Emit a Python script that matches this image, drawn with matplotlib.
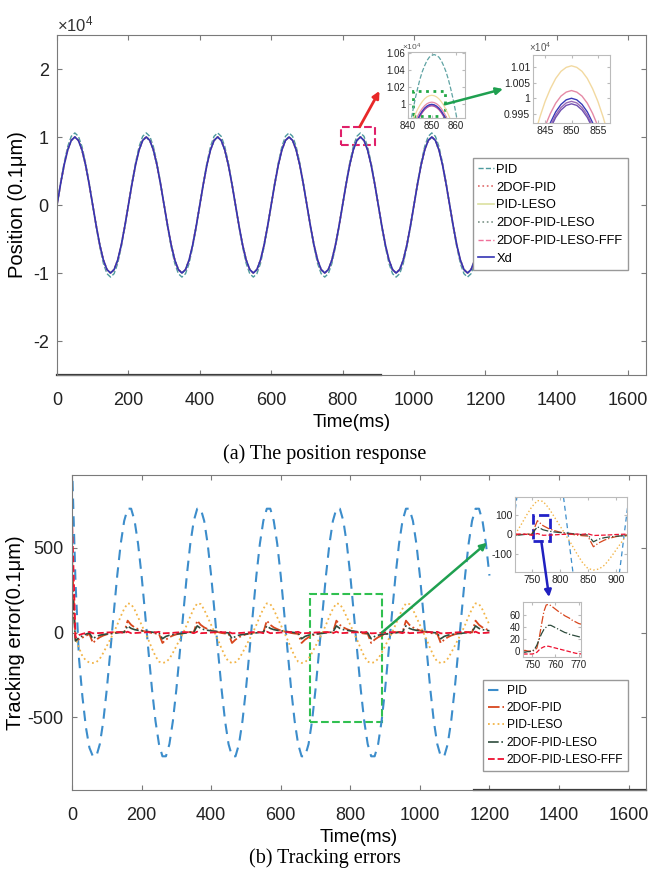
import numpy as np
import matplotlib.pyplot as plt
from matplotlib.patches import Rectangle, ConnectionPatch
from matplotlib.ticker import FuncFormatter

plt.rcParams['font.family'] = ['Liberation Sans Narrow', 'Liberation Sans', 'DejaVu Sans']
plt.rcParams['mathtext.default'] = 'regular'
plt.rcParams['xtick.direction'] = 'in'
plt.rcParams['ytick.direction'] = 'in'

# ---- (a) position response, values in units of 1e4 x 0.1um
t_pos = np.arange(0, 1201, 10)
xd_pos = [
    0.00, 0.31, 0.59, 0.81, 0.95, 1.00, 0.95, 0.81, 0.59, 0.31,
    0.00, -0.31, -0.59, -0.81, -0.95, -1.00, -0.95, -0.81, -0.59, -0.31,
    0.00, 0.31, 0.59, 0.81, 0.95, 1.00, 0.95, 0.81, 0.59, 0.31,
    0.00, -0.31, -0.59, -0.81, -0.95, -1.00, -0.95, -0.81, -0.59, -0.31,
    0.00, 0.31, 0.59, 0.81, 0.95, 1.00, 0.95, 0.81, 0.59, 0.31,
    0.00, -0.31, -0.59, -0.81, -0.95, -1.00, -0.95, -0.81, -0.59, -0.31,
    0.00, 0.31, 0.59, 0.81, 0.95, 1.00, 0.95, 0.81, 0.59, 0.31,
    0.00, -0.31, -0.59, -0.81, -0.95, -1.00, -0.95, -0.81, -0.59, -0.31,
    0.00, 0.31, 0.59, 0.81, 0.95, 1.00, 0.95, 0.81, 0.59, 0.31,
    0.00, -0.31, -0.59, -0.81, -0.95, -1.00, -0.95, -0.81, -0.59, -0.31,
    0.00, 0.31, 0.59, 0.81, 0.95, 1.00, 0.95, 0.81, 0.59, 0.31,
    0.00, -0.31, -0.59, -0.81, -0.95, -1.00, -0.95, -0.81, -0.59, -0.31,
    0.00]
pid_pos = [
    0.00, 0.33, 0.62, 0.86, 1.01, 1.06, 1.01, 0.86, 0.62, 0.33,
    0.00, -0.33, -0.62, -0.86, -1.01, -1.06, -1.01, -0.86, -0.62, -0.33,
    0.00, 0.33, 0.62, 0.86, 1.01, 1.06, 1.01, 0.86, 0.62, 0.33,
    0.00, -0.33, -0.62, -0.86, -1.01, -1.06, -1.01, -0.86, -0.62, -0.33,
    0.00, 0.33, 0.62, 0.86, 1.01, 1.06, 1.01, 0.86, 0.62, 0.33,
    0.00, -0.33, -0.62, -0.86, -1.01, -1.06, -1.01, -0.86, -0.62, -0.33,
    0.00, 0.33, 0.62, 0.86, 1.01, 1.06, 1.01, 0.86, 0.62, 0.33,
    0.00, -0.33, -0.62, -0.86, -1.01, -1.06, -1.01, -0.86, -0.62, -0.33,
    0.00, 0.33, 0.62, 0.86, 1.01, 1.06, 1.01, 0.86, 0.62, 0.33,
    0.00, -0.33, -0.62, -0.86, -1.01, -1.06, -1.01, -0.86, -0.62, -0.33,
    0.00, 0.33, 0.62, 0.86, 1.01, 1.06, 1.01, 0.86, 0.62, 0.33,
    0.00, -0.33, -0.62, -0.86, -1.01, -1.06, -1.01, -0.86, -0.62, -0.33,
    0.00]

# zoomed peak around t = 850 ms (insets of (a))
t_peak = np.arange(841, 862)
pid_peak = [0.977, 0.992, 1.006, 1.018, 1.029, 1.038, 1.045, 1.051, 1.055, 1.057, 1.058,
            1.057, 1.055, 1.051, 1.045, 1.038, 1.029, 1.018, 1.006, 0.992, 0.977]
dof_peak = [0.9652, 0.9731, 0.9800, 0.9859, 0.9910, 0.9951, 0.9984, 1.0007, 1.0020, 1.0025, 1.0020,
            1.0007, 0.9984, 0.9951, 0.9910, 0.9859, 0.9800, 0.9731, 0.9652, 0.9565, 0.9468]
leso_peak = [0.9732, 0.9811, 0.9880, 0.9939, 0.9990, 1.0031, 1.0064, 1.0087, 1.0100, 1.0105, 1.0100,
             1.0087, 1.0064, 1.0031, 0.9990, 0.9939, 0.9880, 0.9811, 0.9732, 0.9645, 0.9548]
dofleso_peak = [0.9593, 0.9676, 0.9750, 0.9813, 0.9867, 0.9911, 0.9946, 0.9970, 0.9985, 0.9990, 0.9985,
                0.9970, 0.9946, 0.9911, 0.9867, 0.9813, 0.9750, 0.9676, 0.9593, 0.9501, 0.9399]
fff_peak = [0.9585, 0.9668, 0.9742, 0.9805, 0.9859, 0.9903, 0.9938, 0.9962, 0.9977, 0.9982, 0.9977,
            0.9962, 0.9938, 0.9903, 0.9859, 0.9805, 0.9742, 0.9668, 0.9585, 0.9493, 0.9391]
xd_peak = [0.9603, 0.9686, 0.9760, 0.9823, 0.9877, 0.9921, 0.9956, 0.9980, 0.9995, 1.0000, 0.9995,
           0.9980, 0.9956, 0.9921, 0.9877, 0.9823, 0.9760, 0.9686, 0.9603, 0.9511, 0.9409]

# ---- (b) tracking errors, 0.1um
t_err = np.arange(0, 1201, 10)
pid_err = [
    1000, 300, -150, -380, -560, -680,
    -731, -731, -659, -523, -336, -115, 115, 336, 523, 659, 731, 731, 659, 523, 336, 115, -115, -336, -523, -659,
    -731, -731, -659, -523, -336, -115, 115, 336, 523, 659, 731, 731, 659, 523, 336, 115, -115, -336, -523, -659,
    -731, -731, -659, -523, -336, -115, 115, 336, 523, 659, 731, 731, 659, 523, 336, 115, -115, -336, -523, -659,
    -731, -731, -659, -523, -336, -115, 115, 336, 523, 659, 731, 731, 659, 523, 336, 115, -115, -336, -523, -659,
    -731, -731, -659, -523, -336, -115, 115, 336, 523, 659, 731, 731, 659, 523, 336, 115, -115, -336, -523, -659,
    -731, -731, -659, -523, -336, -115, 115, 336, 523, 659, 731, 731, 659, 523, 336]
dof_err = [
    450, -45, -40, -30, -20,
    -8, -62, -42, -28, -18, -11, -6, -2, 1, 3, 0, 70, 45, 30, 20, 12, 6, 2, -3, -6,
    -8, -62, -42, -28, -18, -11, -6, -2, 1, 3, 0, 70, 45, 30, 20, 12, 6, 2, -3, -6,
    -8, -62, -42, -28, -18, -11, -6, -2, 1, 3, 0, 70, 45, 30, 20, 12, 6, 2, -3, -6,
    -8, -62, -42, -28, -18, -11, -6, -2, 1, 3, 0, 70, 45, 30, 20, 12, 6, 2, -3, -6,
    -8, -62, -42, -28, -18, -11, -6, -2, 1, 3, 0, 70, 45, 30, 20, 12, 6, 2, -3, -6,
    -8, -62, -42, -28, -18, -11, -6, -2, 1, 3, 0, 70, 45, 30, 20, 12]
leso_err = [
    260, -30, -90, -140, -165, -178,
    -180, -175, -155, -120, -80, -40, 0, 45, 95, 140, 172, 168, 135, 90, 45, 0, -45, -95, -140, -172,
    -180, -175, -155, -120, -80, -40, 0, 45, 95, 140, 172, 168, 135, 90, 45, 0, -45, -95, -140, -172,
    -180, -175, -155, -120, -80, -40, 0, 45, 95, 140, 172, 168, 135, 90, 45, 0, -45, -95, -140, -172,
    -180, -175, -155, -120, -80, -40, 0, 45, 95, 140, 172, 168, 135, 90, 45, 0, -45, -95, -140, -172,
    -180, -175, -155, -120, -80, -40, 0, 45, 95, 140, 172, 168, 135, 90, 45, 0, -45, -95, -140, -172,
    -180, -175, -155, -120, -80, -40, 0, 45, 95, 140, 172, 168, 135, 90, 45]
dofleso_err = [
    300, -50, -30, -20, -10,
    -2, -37, -23, -16, -12, -9, -7, -5, -2, 1, 2, 39, 24, 17, 13, 10, 8, 5, 2, -1,
    -2, -37, -23, -16, -12, -9, -7, -5, -2, 1, 2, 39, 24, 17, 13, 10, 8, 5, 2, -1,
    -2, -37, -23, -16, -12, -9, -7, -5, -2, 1, 2, 39, 24, 17, 13, 10, 8, 5, 2, -1,
    -2, -37, -23, -16, -12, -9, -7, -5, -2, 1, 2, 39, 24, 17, 13, 10, 8, 5, 2, -1,
    -2, -37, -23, -16, -12, -9, -7, -5, -2, 1, 2, 39, 24, 17, 13, 10, 8, 5, 2, -1,
    -2, -37, -23, -16, -12, -9, -7, -5, -2, 1, 2, 39, 24, 17, 13, 10]
fff_err = [
    680, -30, -15, -8, -3,
    4, -5, -4, -3, -2, 0, 1, 2, 2, 1, -4, 5, -4, -3, -2, 0, 1, 2, 2, 1,
    4, -5, -4, -3, -2, 0, 1, 2, 2, 1, -4, 5, -4, -3, -2, 0, 1, 2, 2, 1,
    4, -5, -4, -3, -2, 0, 1, 2, 2, 1, -4, 5, -4, -3, -2, 0, 1, 2, 2, 1,
    4, -5, -4, -3, -2, 0, 1, 2, 2, 1, -4, 5, -4, -3, -2, 0, 1, 2, 2, 1,
    4, -5, -4, -3, -2, 0, 1, 2, 2, 1, -4, 5, -4, -3, -2, 0, 1, 2, 2, 1,
    4, -5, -4, -3, -2, 0, 1, 2, 2, 1, -4, 5, -4, -3, -2, 0]

# zoomed error around t = 757 ms
t_bump = np.arange(746, 772)
dof_bump = [1, 1, 0, 0, 0, 1, 5, 22, 45, 66, 77, 78, 76, 73, 70, 67, 64, 62, 59, 57, 55, 52, 50, 48, 46, 45]
dofleso_bump = [-2, -2, -1, -1, 0, 3, 10, 20, 29, 36, 40, 43, 43, 41, 39, 37, 35, 33, 31, 30, 28, 27, 26, 25, 24, 23]
fff_bump = [-5, -5, -5, -5, -5, -4, -2, 2, 5, 7, 8, 8, 7, 6, 5, 4, 3, 2, 1, 0, -1, -2, -3, -4, -4, -5]

W, H = 650, 875
fig = plt.figure(figsize=(W / 100, H / 100), dpi=100)


def px_axes(left, top, right, bottom):
    return fig.add_axes([left / W, 1 - bottom / H, (right - left) / W, (bottom - top) / H])


def style(ax, size, color="#7a7a7a"):
    for s in ax.spines.values():
        s.set_color(color)
        s.set_linewidth(0.8)
    ax.tick_params(top=True, right=True, color=color, labelsize=size, labelcolor="#222222", length=3.5)
    ax.xaxis.set_major_formatter(FuncFormatter(lambda v, p: f"{v:g}"))
    ax.yaxis.set_major_formatter(FuncFormatter(lambda v, p: f"{v:g}"))


# ================= (a) =================
ax_a = px_axes(57, 35, 646, 375)
ax_a.plot(t_pos, pid_pos, color="#4E9A9E", ls="--", lw=1.0, label="PID")
ax_a.plot(t_pos, xd_pos, color="#E06B6B", ls=":", lw=1.2, label="2DOF-PID")
ax_a.plot(t_pos, xd_pos, color="#DCE0A0", ls="-", lw=1.2, label="PID-LESO")
ax_a.plot(t_pos, xd_pos, color="#7C9488", ls=":", lw=1.2, label="2DOF-PID-LESO")
ax_a.plot(t_pos, xd_pos, color="#F0709A", ls="--", lw=1.0, label="2DOF-PID-LESO-FFF")
ax_a.plot(t_pos, xd_pos, color="#3434B4", ls="-", lw=1.2, label="Xd")
ax_a.set_xlim(0, 1650)
ax_a.set_ylim(-2.5, 2.5)
ax_a.set_xticks(range(0, 1601, 200))
ax_a.set_yticks([-2, -1, 0, 1, 2])
style(ax_a, 13)
ax_a.tick_params(axis="x", pad=12)
ax_a.tick_params(axis="y", pad=6)
ax_a.set_xlabel("Time(ms)", fontsize=13.5, labelpad=4)
ax_a.set_ylabel("Position (0.1μm)", fontsize=14.5, labelpad=4)
ax_a.text(0, 1.012, "×10$^4$", transform=ax_a.transAxes, fontsize=12, color="#333333")
ax_a.plot([0, 0.55], [0, 0], transform=ax_a.transAxes, color="#3a3a3a", lw=1.6, clip_on=False)
ax_a.add_patch(Rectangle((795, 0.88), 97, 0.27, fill=False, ec="#E0206A", ls="--", lw=1.5))
ax_a.legend(loc="upper right", bbox_to_anchor=(634 / W, 1 - 152 / H), bbox_transform=fig.transFigure,
            fontsize=9.3, handlelength=1.2, handletextpad=0.2, labelspacing=0.45, borderpad=0.4,
            fancybox=False, edgecolor="#999999", framealpha=1)

a1 = px_axes(408, 52, 465, 118)
a1.plot(t_peak, pid_peak, color="#5FA3A3", ls="--", lw=0.9)
a1.plot(t_peak, leso_peak, color="#F2D9A0", lw=0.9)
a1.plot(t_peak, dof_peak, color="#E58AA6", lw=0.9)
a1.plot(t_peak, dofleso_peak, color="#9A6CB5", lw=0.9)
a1.plot(t_peak, fff_peak, color="#B050A0", lw=0.9)
a1.plot(t_peak, xd_peak, color="#3A3AB8", lw=0.9)
a1.set_xlim(840, 864)
a1.set_ylim(0.984, 1.061)
a1.set_xticks([840, 850, 860])
a1.set_yticks([1, 1.02, 1.04, 1.06])
style(a1, 7, "#bbbbbb")
a1.tick_params(length=2, pad=2)
a1.text(-0.1, 1.03, "×10$^4$", transform=a1.transAxes, fontsize=6, color="#555555")
a1.add_patch(Rectangle((842, 0.986), 13.5, 0.030, fill=False, ec="#22A845", ls=":", lw=2))

a2 = px_axes(533, 55, 610, 123)
a2.plot(t_peak, leso_peak, color="#F2D9A0", lw=1.0)
a2.plot(t_peak, dof_peak, color="#E58AA6", lw=1.0)
a2.plot(t_peak, xd_peak, color="#3A3AB8", lw=1.0)
a2.plot(t_peak, dofleso_peak, color="#9A6CB5", lw=1.0)
a2.plot(t_peak, fff_peak, color="#7050B0", lw=1.0)
a2.set_xlim(842.7, 857.3)
a2.set_ylim(0.992, 1.014)
a2.set_xticks([845, 850, 855])
a2.set_yticks([0.995, 1, 1.005, 1.01])
style(a2, 7.5, "#bbbbbb")
a2.tick_params(length=2, pad=2)
a2.text(-0.05, 1.04, "×10$^4$", transform=a2.transAxes, fontsize=7, color="#555555")

fig.add_artist(ConnectionPatch((848, 1.15), (-0.5, 0.41), coordsA=ax_a.transData, coordsB=a1.transAxes,
                               arrowstyle="-|>", mutation_scale=10, color="#E82828", lw=2))
fig.add_artist(ConnectionPatch((855.5, 1.0), (-0.39, 0.5), coordsA=a1.transData, coordsB=a2.transAxes,
                               arrowstyle="-|>", mutation_scale=10, color="#1FA050", lw=1.8))

# ================= (b) =================
ax_b = px_axes(72, 475, 646, 790)
ax_b.plot(t_err, pid_err, color="#3C8DCB", ls=(0, (5, 3.5)), lw=1.5, label="PID")
ax_b.plot(t_err, dof_err, color="#D8471E", ls="-.", lw=1.3, label="2DOF-PID")
ax_b.plot(t_err, leso_err, color="#F2B447", ls=":", lw=1.3, label="PID-LESO")
ax_b.plot(t_err, dofleso_err, color="#2D4B3C", ls="-.", lw=1.2, label="2DOF-PID-LESO")
ax_b.plot(t_err, fff_err, color="#EE1030", ls="--", lw=1.3, label="2DOF-PID-LESO-FFF")
ax_b.set_xlim(0, 1650)
ax_b.set_ylim(-930, 930)
ax_b.set_xticks(range(0, 1601, 200))
ax_b.set_yticks([-500, 0, 500])
style(ax_b, 13)
ax_b.tick_params(axis="x", pad=12)
ax_b.tick_params(axis="y", pad=6)
ax_b.set_xlabel("Time(ms)", fontsize=13.5, labelpad=4)
ax_b.set_ylabel("Tracking error(0.1μm)", fontsize=14.5, labelpad=2)
ax_b.plot([0.70, 1.0], [0, 0], transform=ax_b.transAxes, color="#3a3a3a", lw=1.6, clip_on=False)
ax_b.add_patch(Rectangle((684, -530), 207, 758, fill=False, ec="#30C050", ls="--", lw=1.5))
ax_b.legend(loc="upper right", bbox_to_anchor=(634 / W, 1 - 674 / H), bbox_transform=fig.transFigure,
            fontsize=8.6, handlelength=1.4, handletextpad=0.2, labelspacing=0.45, borderpad=0.4,
            fancybox=False, edgecolor="#999999", framealpha=1)

b1 = px_axes(515, 497, 627, 572)
b1.plot(t_err, pid_err, color="#3C8DCB", ls=(0, (4, 3)), lw=0.9)
b1.plot(t_err, dof_err, color="#D8471E", ls="-.", lw=0.9)
b1.plot(t_err, leso_err, color="#F2B447", ls=":", lw=1.0)
b1.plot(t_err, dofleso_err, color="#2D4B3C", ls="-.", lw=0.9)
b1.plot(t_err, fff_err, color="#EE1030", ls="--", lw=0.9)
b1.set_xlim(720, 920)
b1.set_ylim(-190, 190)
b1.set_xticks([750, 800, 850, 900])
b1.set_yticks([-100, 0, 100])
style(b1, 7.5, "#bbbbbb")
b1.tick_params(length=2, pad=2)
b1.add_patch(Rectangle((753, -35), 29, 135, fill=False, ec="#2222C8", ls="--", lw=2))

b2 = px_axes(523, 602, 581, 657)
b2.plot(t_bump, dof_bump, color="#D8471E", ls="-.", lw=0.9)
b2.plot(t_bump, dofleso_bump, color="#2D4B3C", ls="-.", lw=0.9)
b2.plot(t_bump, fff_bump, color="#EE1030", ls="--", lw=0.9)
b2.set_xlim(746, 771)
b2.set_ylim(-10, 82)
b2.set_xticks([750, 760, 770])
b2.set_yticks([0, 20, 40, 60])
style(b2, 7, "#bbbbbb")
b2.tick_params(length=2, pad=2)

fig.add_artist(ConnectionPatch((891, 0), (-0.25, 0.39), coordsA=ax_b.transData, coordsB=b1.transAxes,
                               arrowstyle="-|>", mutation_scale=10, color="#1FA050", lw=1.8))
fig.add_artist(ConnectionPatch((767, -35), (0.45, 1.09), coordsA=b1.transData, coordsB=b2.transAxes,
                               arrowstyle="-|>", mutation_scale=10, color="#2020C0", lw=1.8))

fig.text(0.5, 1 - 454 / H, "(a) The position response", ha="center", va="center",
         family="Liberation Serif", fontsize=14.5)
fig.text(0.5, 1 - 858 / H, "(b) Tracking errors", ha="center", va="center",
         family="Liberation Serif", fontsize=14.5)

fig.savefig("out.png", dpi=100)
